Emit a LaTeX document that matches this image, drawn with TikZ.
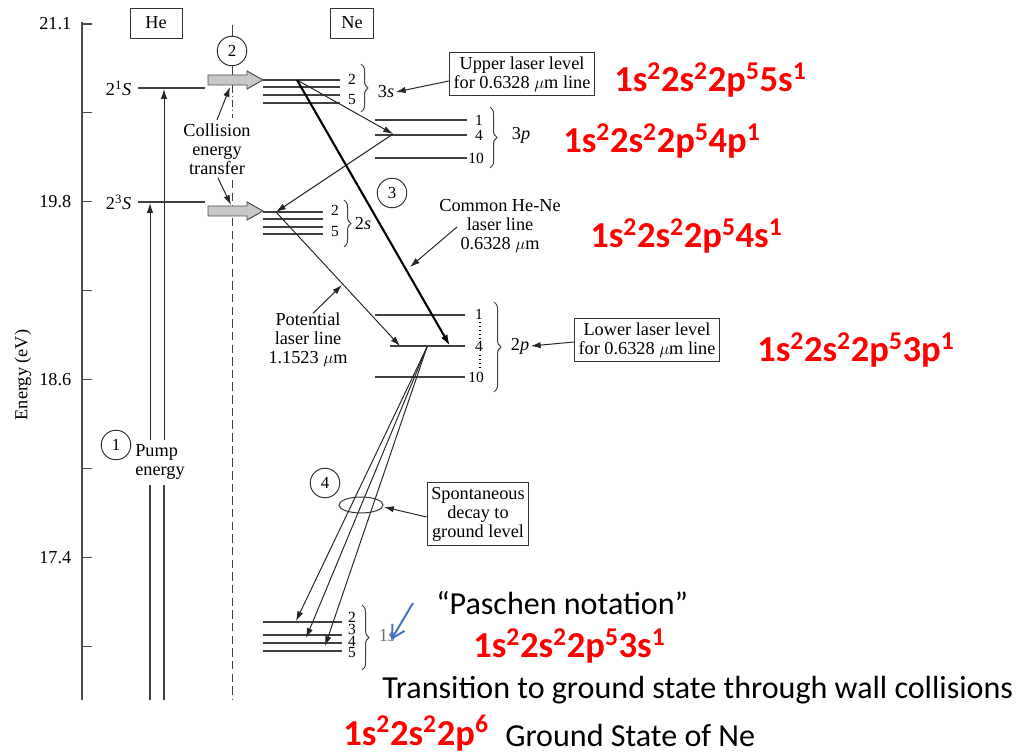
\documentclass[tikz,border=0pt]{standalone}
\usepackage{fontspec}
\setmainfont{Liberation Serif}
\newfontfamily\calibri{Carlito}
\usetikzlibrary{arrows.meta,positioning,decorations.pathreplacing}
\definecolor{cfgred}{RGB}{255,0,0}
\definecolor{pointblue}{RGB}{68,114,196}

\tikzset{
  lvl/.style={draw=black!75,line width=0.8pt},
  arr/.style={-{Latex[length=7pt,width=4.5pt]},draw=black!85,line width=0.7pt},
  numc/.style={circle,draw=black!80,line width=0.7pt,minimum size=21pt,inner sep=0pt,font=\fontsize{12}{12}\selectfont},
  txt/.style={font=\fontsize{13}{13.5}\selectfont,align=center,inner sep=1pt},
  lbox/.style={txt,draw=black!80,line width=0.7pt,inner sep=3pt},
  lnum/.style={font=\fontsize{11}{11}\selectfont,inner sep=0pt},
  brc/.style={decorate,decoration={brace,amplitude=5pt},draw=black!75,line width=0.7pt},
  cfg/.style={font=\calibri\bfseries\fontsize{26}{26}\selectfont,text=cfgred,anchor=west,inner sep=0pt},
  note/.style={font=\calibri\fontsize{22.8}{22.8}\selectfont,anchor=west,inner sep=0pt}
}

\begin{document}
\begin{tikzpicture}[x=0.025cm,y=-0.025cm]
\useasboundingbox (0,0) rectangle (1016,754);

% energy axis
\draw[draw=black!70,line width=0.8pt] (82,22)--(82,700);
\foreach \i in {0,...,7}
  \draw[draw=black!70,line width=0.8pt] (82,24+88.9*\i)--(92,24+88.9*\i);
\foreach \v/\i in {21.1/0,19.8/2,18.6/4,17.4/6}
  \node[txt,anchor=east] at (73,24+88.9*\i) {\v};
\node[txt,rotate=90] (axlab) at (23,375) {Energy (eV)};

% species boxes
\node[lbox,minimum width=52*0.025cm,minimum height=30*0.025cm] (he) at (156,23) {He};
\node[lbox,minimum width=43*0.025cm,minimum height=30*0.025cm] (ne) at (352,23) {Ne};

% He levels
\draw[lvl] (138,88)--(205,88);
\draw[lvl] (138,202)--(205,202);
\node[txt,anchor=east] (hes1) at (133,88) {2\textsuperscript{1}\textit{S}};
\node[txt,anchor=east] (hes3) at (133,202) {2\textsuperscript{3}\textit{S}};

% pump
\node[numc] (c1) at (116,445) {1};
\node[txt,align=left] (pump) at (160,462) {Pump\\energy};
\coordinate (pa0) at (150,700); \coordinate (pa1) at (150,485);
\coordinate (pa2) at (150,440); \coordinate (pa3) at (150,203);
\coordinate (pb0) at (164,700); \coordinate (pb1) at (164,485);
\coordinate (pb2) at (164,440); \coordinate (pb3) at (164,89);
\draw[draw=black!75,line width=0.8pt] (pa0)--(pa1) (pb0)--(pb1);
\draw[arr] (pa2)--(pa3);
\draw[arr] (pb2)--(pb3);

% collision line
\node[numc] (c2) at (232,51) {2};
\draw[draw=black!75,line width=0.7pt] (232,25)--(c2.north);
\draw[draw=black!75,line width=0.7pt] (c2.south)--(232,86);
\draw[draw=black!75,line width=0.7pt,dash pattern=on 5pt off 2pt on 1pt off 2pt] (232,86)--(232,118);
\draw[draw=black!75,line width=0.7pt,dash pattern=on 6pt off 3pt] (232,180)--(232,700);
\foreach \y in {80,211}
  \draw[fill=black!22,draw=black!70,line width=0.7pt]
    (208,\y-5)--(247,\y-5)--(247,\y-9)--(263,\y)--(247,\y+9)--(247,\y+5)--(208,\y+5)--cycle;
\node[txt] (coll) at (217,149) {Collision\\energy\\transfer};
\coordinate (ga1) at (230,87); \coordinate (ga2) at (231,205);
\draw[arr] (coll.north)++(0,-2) -- (ga1);
\draw[arr] (coll.south)++(1,2) -- (ga2);

% Ne 3s
\foreach \y in {80,87,95,103} \draw[lvl] (263,\y)--(340,\y);
\node[lnum] at (352,79) {2};
\node[lnum] at (352,100) {5};
\draw[brc] (361,64)--(361,112);
\node[txt] (l3s) at (386,92) {3\textit{s}};
\node[lbox] (upbox) at (522,74) {Upper laser level\\for 0.6328 $\mu$m line};
\draw[arr] (upbox.west)++(0,7) -- (l3s.east);

% Ne 3p
\foreach \y in {120,135,158} \draw[lvl] (375,\y)--(467,\y);
\node[lnum] at (479,120) {1};
\node[lnum] at (479,135) {4};
\node[lnum] at (476,158) {10};
\draw[brc] (490,107)--(490,168);
\node[txt] (l3p) at (521,135) {3\textit{p}};

% Ne 2s
\foreach \y in {212,219,227,234} \draw[lvl] (263,\y)--(323,\y);
\node[lnum] at (335,210) {2};
\node[lnum] at (335,232) {5};
\draw[brc] (344,200)--(344,247);
\node[txt] (l2s) at (363,224) {2\textit{s}};

% Ne 2p
\draw[lvl] (375,315)--(465,315);
\draw[lvl] (390,346)--(465,346);
\draw[lvl] (375,377)--(465,377);
\node[lnum] at (479,314) {1};
\node[lnum] at (479,346) {4};
\node[lnum] at (476,377) {10};
\draw[dotted,line width=0.8pt] (480,322)--(480,338) (480,355)--(480,370);
\draw[brc] (494,302)--(494,392);
\node[txt] (l2p) at (520,346) {2\textit{p}};
\node[lbox] (lowbox) at (647,340) {Lower laser level\\for 0.6328 $\mu$m line};
\draw[arr] (lowbox.west)++(0,2) -- (l2p.east);

% Ne 1s
\foreach \y in {622,635,643,651} \draw[lvl] (263,\y)--(342,\y);
\foreach \n/\y in {2/617,3/629,4/641,5/653} \node[lnum] at (352,\y) {\n};
\draw[brc] (362,605)--(362,670);
\node[txt,text=black!55] (l1s) at (387,636) {1\textit{s}};

% transitions
\coordinate (s3) at (297,80);
\coordinate (p3) at (393,134);
\coordinate (s2) at (276,212);
\coordinate (p2a) at (400,346);
\coordinate (p2b) at (450,346);
\coordinate (p2c) at (427,347);
\draw[arr] (s3)--(p3);
\draw[arr] (p3)--(s2);
\draw[arr] (s2)--(p2a);
\draw[-{Latex[length=8pt,width=5pt]},draw=black,line width=1.5pt] (s3)--(p2b);
\node[numc] (c3) at (392,193) {3};
\node[txt] (common) at (500,226) {Common He-Ne\\laser line\\0.6328 $\mu$m};
\coordinate (cm) at (410,267);
\draw[arr] (457,227)--(cm);
\node[txt] (potential) at (308,340) {Potential\\laser line\\1.1523 $\mu$m};
\coordinate (pm) at (342,285);
\draw[arr] (potential.north)++(5,2)--(pm);

% spontaneous decay
\coordinate (g2) at (296,621);
\coordinate (g3) at (306,638);
\coordinate (g4) at (325,646);
\draw[arr] (p2c)--(g2);
\draw[arr] (p2c)--(g3);
\draw[arr] (p2c)--(g4);
\node[numc] (c4) at (325,483) {4};
\draw[draw=black!80,line width=0.7pt] (361,505) ellipse (22 and 8);
\coordinate (ell) at (384,507);
\node[lbox] (spbox) at (478,514) {Spontaneous\\decay to\\ground level};
\draw[arr] (spbox.west)++(0,3)--(ell);

% notes
\coordinate (bl) at (391,640);
\draw[pointblue,line width=1.4pt,-{Straight Barb[length=9pt,width=10pt]}] (413,603)--(bl);
\node[cfg] (n5s) at (614,80) {1s\textsuperscript{2}2s\textsuperscript{2}2p\textsuperscript{5}5s\textsuperscript{1}};
\node[cfg] (n4p) at (563,141) {1s\textsuperscript{2}2s\textsuperscript{2}2p\textsuperscript{5}4p\textsuperscript{1}};
\node[cfg] (n4s) at (590,236) {1s\textsuperscript{2}2s\textsuperscript{2}2p\textsuperscript{5}4s\textsuperscript{1}};
\node[cfg] (n3p) at (757,350) {1s\textsuperscript{2}2s\textsuperscript{2}2p\textsuperscript{5}3p\textsuperscript{1}};
\node[note] (pasch) at (436,603) {“Paschen notation”};
\node[cfg] (n3s) at (473,646) {1s\textsuperscript{2}2s\textsuperscript{2}2p\textsuperscript{5}3s\textsuperscript{1}};
\node[note] (trans) at (382,690) {Transition to ground state through wall collisions};
\node[cfg] (ngr) at (343,733) {1s\textsuperscript{2}2s\textsuperscript{2}2p\textsuperscript{6}};
\node[note] (grnd) at (505,735) {Ground State of Ne};
\end{tikzpicture}
\end{document}
